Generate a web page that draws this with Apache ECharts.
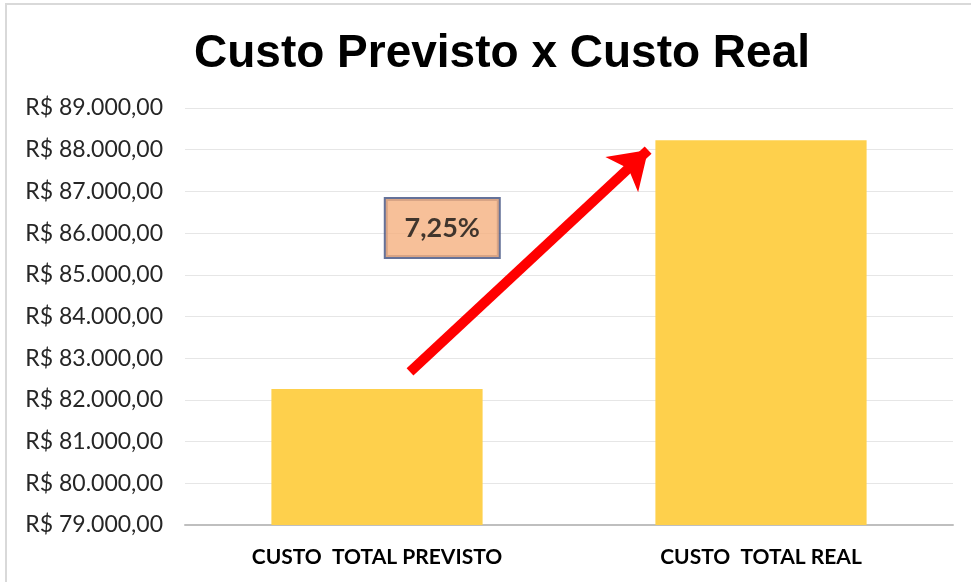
<!DOCTYPE html>
<html>
<head>
<meta charset="utf-8">
<script src="https://cdn.jsdelivr.net/npm/echarts@6/dist/echarts.min.js"></script>
<style>
html,body{margin:0;padding:0;background:#fff;}
#c{width:971px;height:582px;}
</style>
</head>
<body>
<div id="c"></div>
<script>
const titleText = 'Custo Previsto x Custo Real';
const categories = ['CUSTO  TOTAL PREVISTO', 'CUSTO  TOTAL REAL'];
const costValues = [82260, 88225];
const yMin = 79000, yMax = 89000, yStep = 1000;
const changeLabel = '7,25%';
// annotation positions in data space (x on a 0..2 helper axis, y in R$)
const arrowStart = [0.586, 82670];
const arrowEnd = [1.206, 87990];
const boxPoint = [0.67, 86120];

function fmt(v){
  const s = Math.round(v).toString().replace(/\B(?=(\d{3})+(?!\d))/g, '.');
  return 'R$ ' + s + ',00';
}

const chart = echarts.init(document.getElementById('c'));
chart.setOption({
  backgroundColor: '#fff',
  animation: false,
  title: {
    text: titleText,
    left: 497,
    top: 26,
    textAlign: 'center',
    textStyle: {fontFamily: 'Liberation Sans', fontWeight: 'bold', fontSize: 46, color: '#000'}
  },
  graphic: [{
    type: 'rect', shape: {x: 6, y: 4, width: 1000, height: 700},
    style: {fill: 'none', stroke: '#d9d9d9', lineWidth: 2}, silent: true, z: -1
  }],
  grid: {left: 185, right: 18, top: 108, bottom: 57, containLabel: false},
  xAxis: [{
    type: 'category', data: categories,
    axisLine: {lineStyle: {color: '#bfbfbf', width: 2}},
    axisTick: {show: false},
    axisLabel: {margin: 22, fontFamily: 'Lato', fontWeight: 'bold', fontSize: 21, color: '#000'}
  }, {
    type: 'value', min: 0, max: 2, show: false
  }],
  yAxis: {
    type: 'value', min: yMin, max: yMax, interval: yStep,
    axisLine: {show: false}, axisTick: {show: false},
    splitLine: {lineStyle: {color: '#e6e6e6', width: 1}},
    axisLabel: {formatter: fmt, margin: 22, fontFamily: 'Lato', fontSize: 23, color: '#262626'}
  },
  series: [{
    type: 'bar', data: costValues, barWidth: '55%',
    itemStyle: {color: '#fed04c'}
  }, {
    type: 'scatter', xAxisIndex: 1, data: [boxPoint], symbolSize: 0,
    label: {
      show: true, position: 'inside', formatter: changeLabel,
      fontFamily: 'Lato', fontWeight: 'bold', fontSize: 27, color: '#111',
      backgroundColor: '#f5b07f', borderColor: '#3f4f7f', borderWidth: 2,
      width: 113, height: 58, align: 'center', verticalAlign: 'middle', lineHeight: 58
    },
    markLine: {
      silent: true, symbol: ['none', 'arrow'], symbolSize: [36, 36],
      lineStyle: {color: '#ff0000', width: 10, type: 'solid'},
      label: {show: false},
      data: [[{coord: arrowStart}, {coord: arrowEnd}]]
    }
  }]
});
</script>
</body>
</html>
